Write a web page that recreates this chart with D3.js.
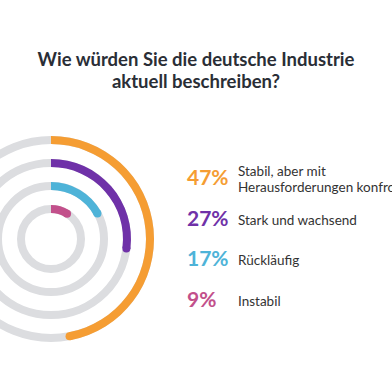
<!DOCTYPE html>
<html><head><meta charset="utf-8">
<script src="https://cdn.jsdelivr.net/npm/d3@7"></script>
<style>body{margin:0;background:#fff}svg{display:block}</style>
</head><body>
<svg id="c" width="392" height="392"></svg>
<script>
const categories = ["Stabil, aber mit|Herausforderungen konfrontiert", "Stark und wachsend", "Rückläufig", "Instabil"];
const values = [47, 27, 17, 9];
const colors = ["#f59d33", "#6f31a8", "#4eb3d8", "#c2508b"];
const titleLines = ["Wie würden Sie die deutsche Industrie", "aktuell beschreiben?"];

const svg = d3.select("#c");
const font = "Lato, 'Open Sans', sans-serif";

svg.selectAll("text.title").data(titleLines).enter().append("text")
  .attr("x", 196).attr("y", (d,i) => 66 + i*22)
  .attr("text-anchor", "middle").attr("font-family", font).attr("font-weight", 700)
  .attr("font-size", 18.5).attr("fill", "#2a2e36").text(d => d);

const cx = 51, cy = 239;
const rScale = d3.scaleLinear().domain([0, 3]).range([99, 30]);
const aScale = d3.scaleLinear().domain([0, 100]).range([0, 2*Math.PI]);
const sw = 8;
const g = svg.append("g").attr("transform", `translate(${cx},${cy})`);
const arc = d3.arc();

values.forEach((v, i) => {
  const r = rScale(i);
  g.append("circle").attr("r", r).attr("fill", "none").attr("stroke", "#dcdde0").attr("stroke-width", sw);
  const a1 = aScale(v);
  g.append("path").attr("d", arc({innerRadius: r - sw/2, outerRadius: r + sw/2, startAngle: 0, endAngle: a1}))
    .attr("fill", colors[i]);
  g.append("circle").attr("cx", r*Math.sin(a1)).attr("cy", -r*Math.cos(a1)).attr("r", sw/2).attr("fill", colors[i]);
});

const rowY = d3.scaleLinear().domain([0, 3]).range([185, 307]);
values.forEach((v, i) => {
  const y = rowY(i);
  svg.append("text").attr("x", 187).attr("y", y).attr("font-family", font).attr("font-weight", 700)
    .attr("font-size", 21).attr("fill", colors[i]).text(v + "%");
  const lines = categories[i].split("|");
  const t = svg.append("text").attr("font-family", font).attr("font-size", 13.5).attr("fill", "#333");
  lines.forEach((l, j) => {
    const yy = lines.length === 1 ? y - 1 : y - 9 + j*16;
    t.append("tspan").attr("x", 238).attr("y", yy).text(l);
  });
});
</script>
</body></html>
